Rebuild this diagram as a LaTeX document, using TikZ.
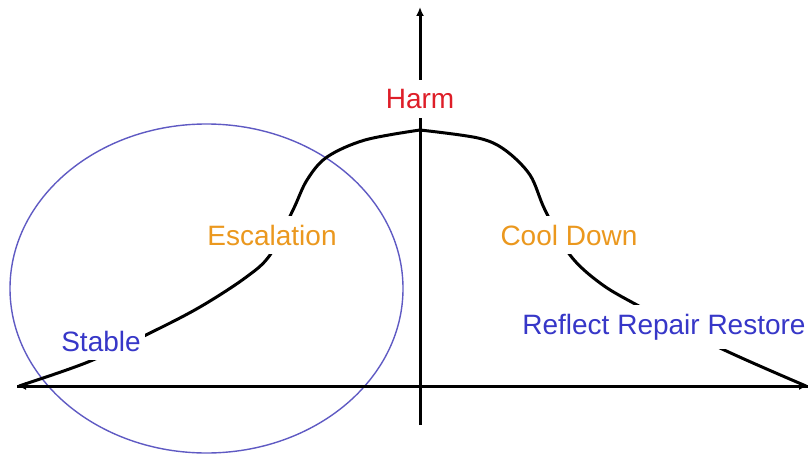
\documentclass[tikz,border=0pt]{standalone}
\usepackage{fontspec}
\setmainfont{Liberation Sans}
\usetikzlibrary{arrows.meta}
\definecolor{harmred}{RGB}{222,30,40}
\definecolor{escorange}{RGB}{235,152,30}
\definecolor{stableblue}{RGB}{55,55,200}
\definecolor{circblue}{RGB}{95,90,195}
\begin{document}
\begin{tikzpicture}[x=1pt,y=-1pt,
  axisline/.style={line width=3pt},
  axisarrow/.style={line width=3pt,-{Latex[length=9pt,width=8pt]}},
  curveline/.style={line width=3pt},
  lbl/.style={fill=white,inner sep=4pt,inner ysep=9pt,font=\fontsize{28}{32}\selectfont}]
\useasboundingbox (0,0) rectangle (810,457);
% ellipse
\draw[circblue,line width=1.4pt] (206.5,288.5) ellipse [x radius=196.5, y radius=164.5];
% axes
\coordinate (o) at (420,386);
\coordinate (xl) at (17,386);
\coordinate (xr) at (808,386);
\coordinate (yt) at (420,7);
\coordinate (yb) at (420,425);
\draw[axisline] (xl) -- (xr);
\draw[axisarrow] (o) -- (xl);
\draw[axisarrow] (o) -- (xr);
\draw[axisarrow] (yb) -- (yt);
% curve
\draw[curveline] plot[smooth,tension=0.55] coordinates {
 (19,386) (88,362) (152,332) (200,307) (245,278) (270,255) (293,210) (307,180)
 (327,157) (365,140) (420,130)};
\draw[curveline] plot[smooth,tension=0.55] coordinates {
 (420,130) (478,138) (505,150) (530,175) (545,210) (570,255) (600,283) (637,305)
 (720,348) (806,386)};
% labels
\node[lbl,text=harmred] (harm) at (420,99) {Harm};
\node[lbl,text=escorange] (esc) at (272,235) {Escalation};
\node[lbl,text=escorange] (cool) at (569,235) {Cool Down};
\node[lbl,text=stableblue] (stable) at (101,341) {Stable};
\node[lbl,text=stableblue] (rrr) at (664,327) {Reflect Repair Restore};
\end{tikzpicture}
\end{document}
